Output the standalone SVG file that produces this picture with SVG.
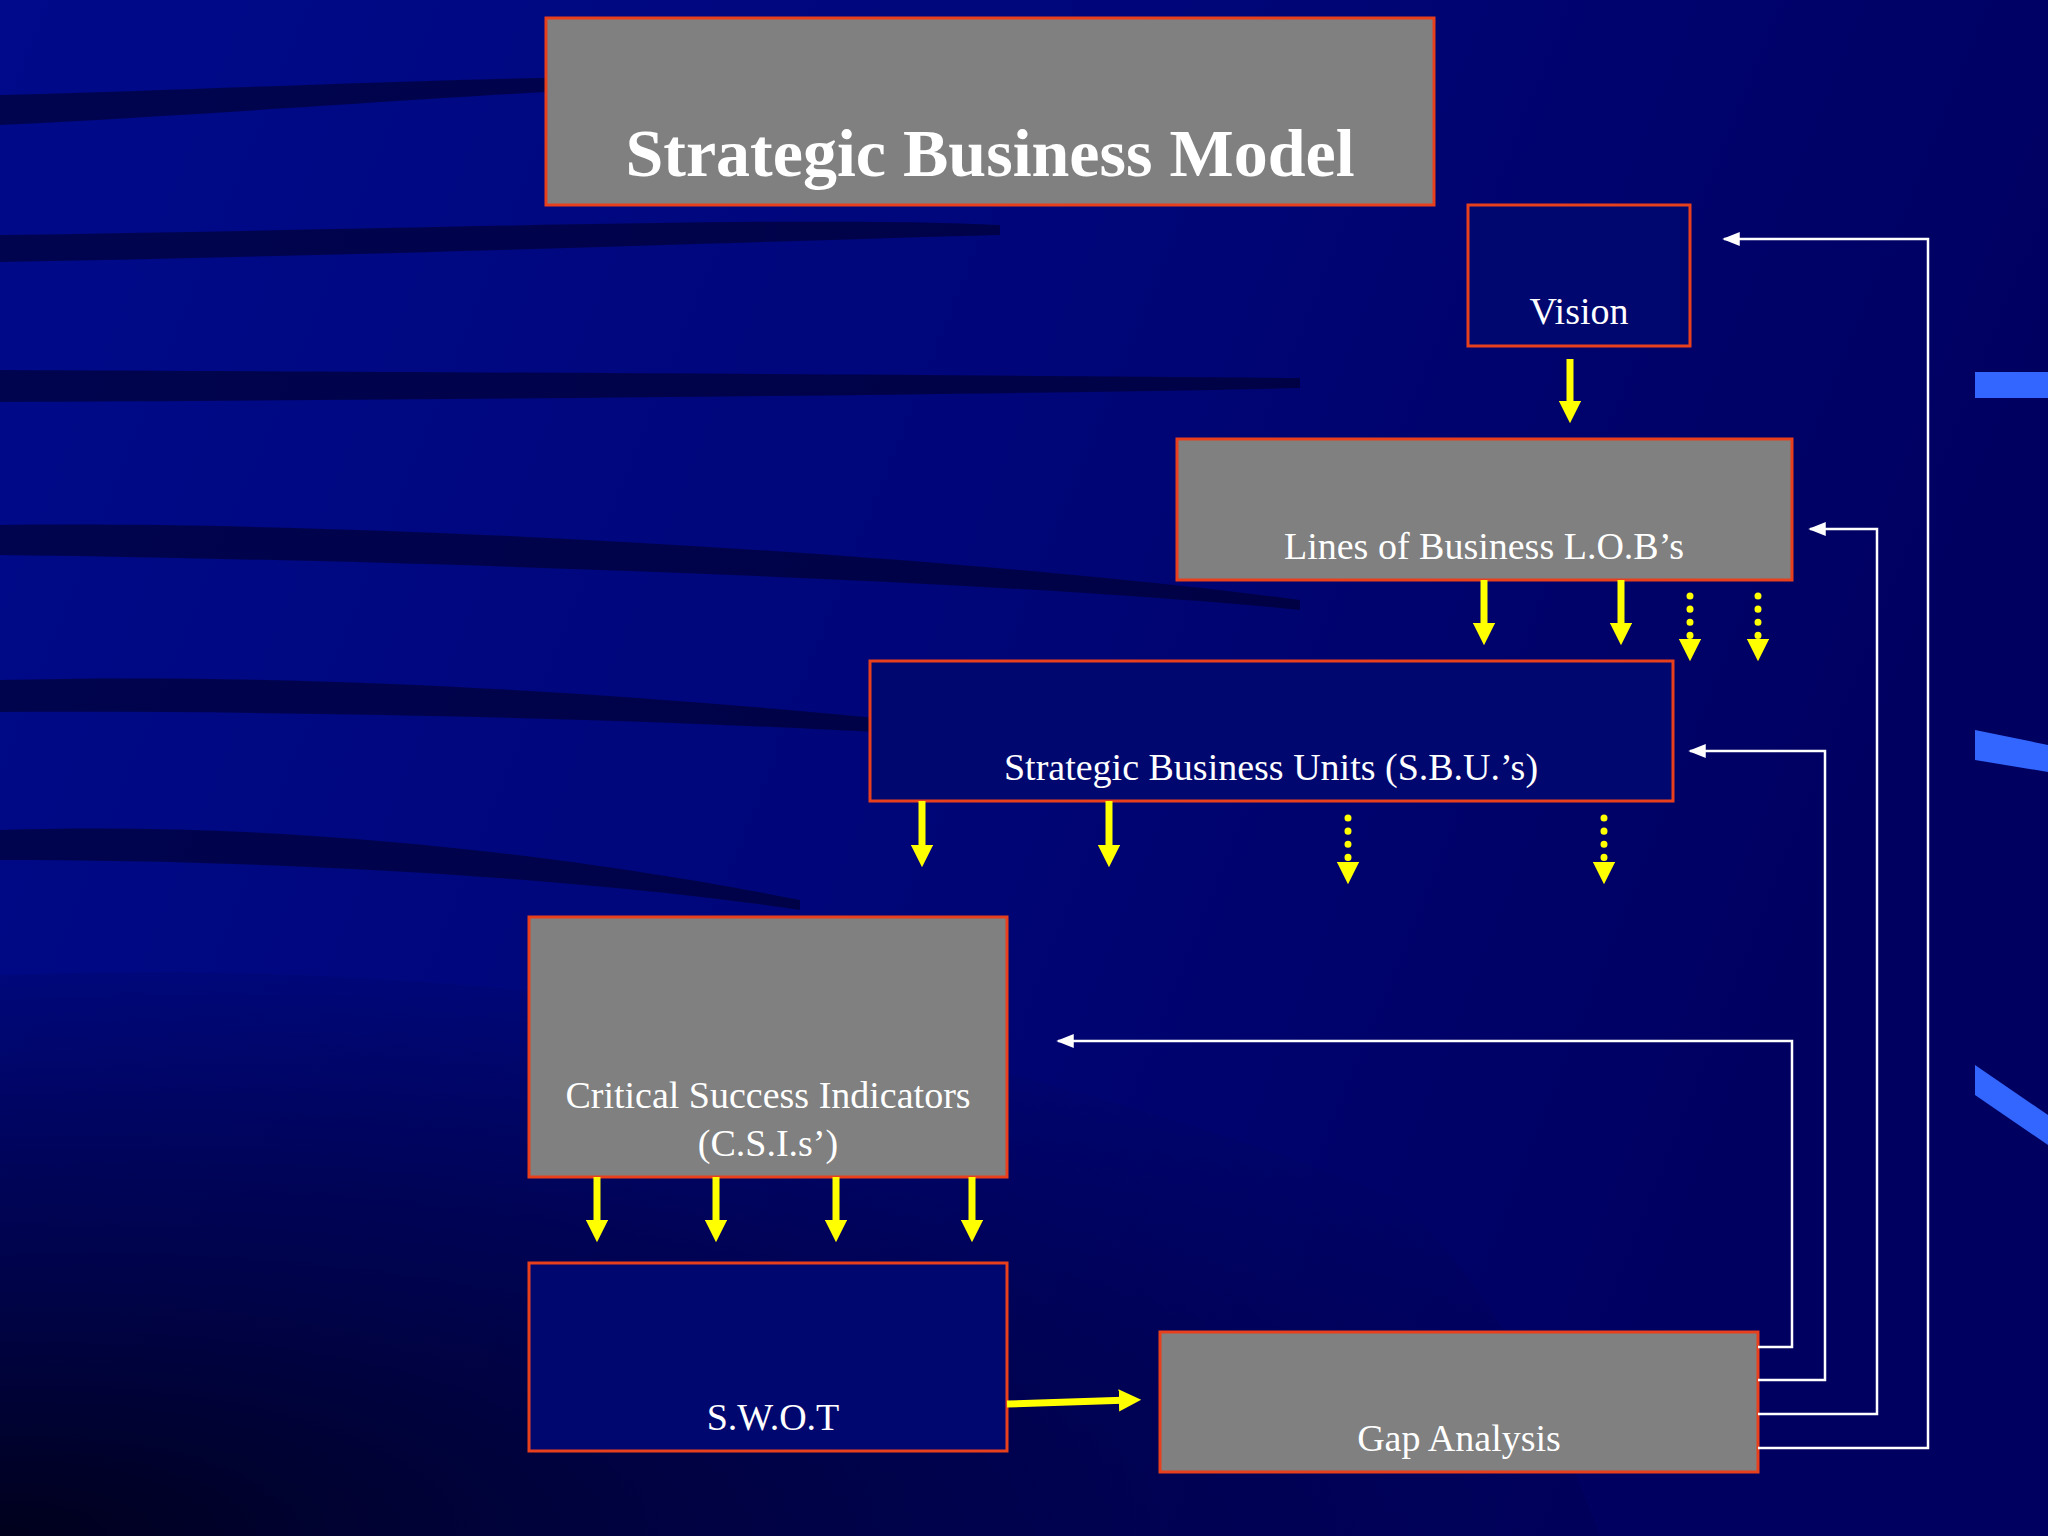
<svg xmlns="http://www.w3.org/2000/svg" width="2048" height="1536" viewBox="0 0 2048 1536">
<defs>
<linearGradient id="bg" x1="0" y1="0" x2="1" y2="0.3">
<stop offset="0" stop-color="#000a8a"/><stop offset="0.5" stop-color="#00067a"/><stop offset="1" stop-color="#000060"/>
</linearGradient>
<radialGradient id="sh" cx="0" cy="1" r="1.1">
<stop offset="0" stop-color="#000010" stop-opacity="0.9"/><stop offset="0.6" stop-color="#000030" stop-opacity="0.5"/><stop offset="1" stop-color="#000030" stop-opacity="0"/>
</radialGradient>
<marker id="ya" viewBox="0 0 10 10" refX="5" refY="5" markerWidth="3.2" markerHeight="3.2" orient="auto"><path d="M0,0 L10,5 L0,10 Z" fill="#ffff00"/></marker>
<marker id="wa" viewBox="0 0 10 10" refX="9" refY="5" markerWidth="7" markerHeight="7" orient="auto"><path d="M0,1 L10,5 L0,9 Z" fill="#fff"/></marker>
<style>
.g{fill:#808080;stroke:#e8401c;stroke-width:3}
.b{fill:#000870;stroke:#e8401c;stroke-width:3}
.t{font-family:"Liberation Serif",serif;fill:#fff;font-size:38px;text-anchor:middle}
.y{stroke:#ffff00;stroke-width:7;fill:none;marker-end:url(#ya)}
.yd{stroke:#ffff00;stroke-width:7;stroke-linecap:round;stroke-dasharray:0.1 13;fill:none;marker-end:url(#ya)}
.w{stroke:#fff;stroke-width:2.5;fill:none;marker-end:url(#wa)}
</style>
</defs>
<rect width="2048" height="1536" fill="url(#bg)"/>
<path d="M0,975 C400,960 900,1000 1400,1200 C1500,1300 1550,1400 1600,1536 L0,1536 Z" fill="url(#sh)"/>
<g opacity="0.55" fill="#000020">
<path d="M0,95 C200,90 400,80 546,78 L546,92 C400,100 200,115 0,125 Z"/>
<path d="M0,235 C400,230 800,215 1000,225 L1000,235 C800,240 400,255 0,262 Z"/>
<path d="M0,370 C400,372 1000,375 1300,378 L1300,388 C1000,395 400,400 0,402 Z"/>
<path d="M0,525 C400,520 1000,560 1300,600 L1300,610 C1000,580 400,560 0,555 Z"/>
<path d="M0,680 C400,670 800,710 1000,730 L1000,740 C800,725 400,710 0,712 Z"/>
<path d="M0,830 C300,820 600,860 800,900 L800,910 C600,880 300,860 0,860 Z"/>
</g>
<g fill="#3366ff">
<rect x="1975" y="372" width="73" height="26"/>
<path d="M1975,730 L2048,745 L2048,772 L1975,760 Z"/>
<path d="M1975,1065 L2048,1115 L2048,1145 L1975,1095 Z"/>
</g>
<g id="title"><rect class="g" x="546" y="18" width="888" height="187"/><text class="t" x="990" y="176" style="font-size:68px;font-weight:bold">Strategic Business Model</text></g>
<g id="vision"><rect class="b" x="1468" y="205" width="222" height="141"/><text class="t" x="1579" y="324">Vision</text></g>
<g id="lob"><rect class="g" x="1177" y="439" width="615" height="141"/><text class="t" x="1484" y="559">Lines of Business L.O.B’s</text></g>
<g id="sbu"><rect class="b" x="870" y="661" width="803" height="140"/><text class="t" x="1271" y="780">Strategic Business Units (S.B.U.’s)</text></g>
<g id="csi"><rect class="g" x="529" y="917" width="478" height="260"/><text class="t" x="768" y="1108">Critical Success Indicators</text><text class="t" x="768" y="1156">(C.S.I.s’)</text></g>
<g id="swot"><rect class="b" x="529" y="1263" width="478" height="188"/><text class="t" x="773" y="1430">S.W.O.T</text></g>
<g id="gap"><rect class="g" x="1160" y="1332" width="598" height="140"/><text class="t" x="1459" y="1451">Gap Analysis</text></g>
<g id="connectors">
<path class="y" d="M1570,359 V412"/>
<path class="y" d="M1484,580 V634"/><path class="y" d="M1621,580 V634"/>
<path class="yd" d="M1690,596 V650"/><path class="yd" d="M1758,596 V650"/>
<path class="y" d="M922,801 V856"/><path class="y" d="M1109,801 V856"/>
<path class="yd" d="M1348,818 V873"/><path class="yd" d="M1604,818 V873"/>
<path class="y" d="M597,1177 V1231"/><path class="y" d="M716,1177 V1231"/><path class="y" d="M836,1177 V1231"/><path class="y" d="M972,1177 V1231"/>
<path class="y" d="M1007,1404 L1130,1400"/>
<path class="w" d="M1758,1347 H1792 V1041 H1058"/>
<path class="w" d="M1758,1380 H1825 V751 H1690"/>
<path class="w" d="M1758,1414 H1877 V529 H1810"/>
<path class="w" d="M1758,1448 H1928 V239 H1724"/>
</g>
</svg>
